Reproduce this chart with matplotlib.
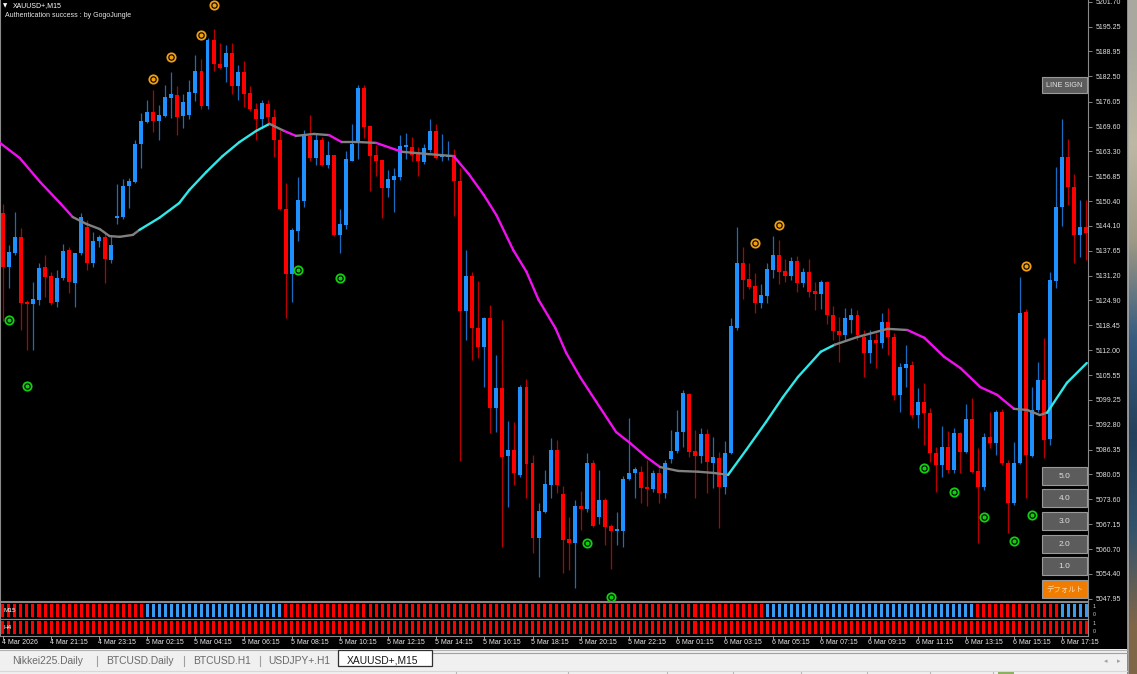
import matplotlib
matplotlib.use("Agg")
import matplotlib.pyplot as plt
import matplotlib.transforms as mtransforms
from matplotlib.collections import LineCollection
from matplotlib.patches import Rectangle
import numpy as np


FIG_W, FIG_H = 1137, 674
DPI = 100
CHART_RIGHT = 1088
CHART_BOTTOM = 601
X_MIN, X_MAX = -0.48, 180.3
Y_MIN, Y_MAX = 5047.4, 5202.2

# XAUUSD+ M15 candles
OPEN = [
    5147.4, 5133.4, 5137.1, 5141.2, 5124.4, 5123.9, 5125.0, 5133.4, 5131.1, 5124.4,
    5130.6, 5137.8, 5129.3, 5137.1, 5143.8, 5134.5, 5140.1, 5141.2, 5135.3, 5146.1,
    5146.3, 5154.3, 5155.3, 5165.1, 5170.8, 5173.4, 5171.0, 5172.3, 5177.0, 5177.7,
    5172.3, 5172.6, 5178.3, 5183.9, 5174.9, 5191.9, 5185.7, 5185.0, 5188.6, 5180.1,
    5183.7, 5178.3, 5174.1, 5171.6, 5175.4, 5172.1, 5166.2, 5148.4, 5131.6, 5142.7,
    5150.4, 5167.2, 5161.5, 5166.2, 5159.7, 5162.3, 5141.7, 5144.3, 5160.7, 5165.6,
    5179.5, 5169.8, 5162.3, 5161.0, 5153.8, 5155.9, 5156.6, 5164.3, 5164.3, 5163.1,
    5160.5, 5163.6, 5168.5, 5161.8, 5161.8, 5162.3, 5155.6, 5122.1, 5131.1, 5117.7,
    5112.8, 5120.3, 5097.1, 5102.3, 5084.8, 5086.3, 5079.9, 5102.5, 5083.0, 5063.7,
    5070.4, 5077.3, 5086.3, 5075.0, 5063.4, 5062.4, 5071.9, 5071.1, 5083.0, 5069.1,
    5073.5, 5066.8, 5065.5, 5065.5, 5078.9, 5080.4, 5080.7, 5076.5, 5076.3, 5080.4,
    5075.3, 5084.0, 5086.1, 5091.0, 5100.7, 5086.1, 5084.8, 5090.4, 5083.0, 5084.3,
    5076.8, 5085.6, 5117.7, 5134.5, 5130.4, 5128.6, 5124.2, 5126.0, 5132.7, 5136.5,
    5132.4, 5131.1, 5135.0, 5129.3, 5132.2, 5127.3, 5126.5, 5129.6, 5121.1, 5117.0,
    5115.9, 5119.8, 5121.1, 5115.4, 5111.3, 5114.7, 5113.9, 5119.3, 5115.4, 5100.5,
    5107.4, 5108.2, 5095.3, 5098.7, 5095.9, 5085.6, 5082.5, 5087.1, 5081.2, 5090.7,
    5085.8, 5094.3, 5080.9, 5076.8, 5089.7, 5088.1, 5096.1, 5083.0, 5072.7, 5083.0,
    5121.9, 5084.8, 5096.6, 5104.4, 5089.2, 5129.8, 5148.9, 5161.8, 5154.1, 5141.7,
    5143.8,
]
HIGH = [
    5149.7, 5139.1, 5147.6, 5143.5, 5125.0, 5129.6, 5134.5, 5136.5, 5132.2, 5132.7,
    5139.4, 5138.6, 5137.1, 5147.4, 5145.6, 5142.5, 5141.7, 5142.2, 5141.4, 5154.8,
    5156.1, 5156.4, 5166.2, 5173.1, 5176.5, 5179.0, 5175.2, 5180.3, 5183.7, 5180.1,
    5178.0, 5181.6, 5188.0, 5187.0, 5192.4, 5194.7, 5191.1, 5190.6, 5191.1, 5185.5,
    5186.5, 5180.1, 5175.7, 5176.5, 5176.5, 5174.1, 5168.7, 5155.1, 5143.5, 5156.6,
    5168.7, 5172.6, 5167.7, 5166.9, 5165.9, 5162.3, 5148.4, 5163.3, 5170.3, 5180.3,
    5180.3, 5169.8, 5164.9, 5161.0, 5158.4, 5158.9, 5167.4, 5168.0, 5166.9, 5164.3,
    5165.1, 5171.6, 5170.3, 5167.7, 5165.9, 5163.8, 5158.9, 5137.8, 5132.2, 5129.8,
    5120.6, 5123.7, 5110.8, 5119.8, 5093.8, 5093.5, 5103.1, 5104.6, 5085.0, 5072.7,
    5081.2, 5089.4, 5088.9, 5077.1, 5069.1, 5073.5, 5075.8, 5085.6, 5083.8, 5081.2,
    5074.0, 5067.3, 5070.4, 5079.6, 5094.6, 5082.0, 5082.2, 5083.8, 5081.2, 5081.7,
    5083.8, 5091.5, 5096.6, 5101.8, 5101.0, 5091.5, 5092.0, 5091.7, 5089.7, 5085.8,
    5088.6, 5120.3, 5143.8, 5138.6, 5134.5, 5131.9, 5129.1, 5134.5, 5141.4, 5140.4,
    5135.5, 5136.0, 5136.3, 5133.2, 5135.5, 5129.6, 5130.1, 5129.8, 5123.4, 5120.6,
    5122.9, 5122.9, 5122.4, 5117.2, 5117.2, 5116.5, 5121.6, 5122.9, 5116.5, 5108.7,
    5113.4, 5109.2, 5102.3, 5103.6, 5097.1, 5087.1, 5092.5, 5091.2, 5092.0, 5091.0,
    5098.2, 5099.7, 5086.8, 5090.7, 5096.1, 5096.6, 5096.9, 5083.8, 5088.4, 5130.9,
    5122.6, 5102.5, 5109.0, 5115.2, 5132.2, 5159.2, 5171.6, 5166.4, 5157.4, 5150.7,
    5150.7,
]
LOW = [
    5119.5, 5128.0, 5136.5, 5117.2, 5112.1, 5112.1, 5123.7, 5125.7, 5123.7, 5123.1,
    5130.1, 5126.8, 5123.1, 5136.5, 5132.7, 5133.4, 5138.6, 5129.3, 5134.5, 5144.5,
    5145.8, 5148.6, 5155.1, 5158.9, 5170.5, 5168.2, 5166.2, 5172.1, 5171.8, 5167.4,
    5169.2, 5171.6, 5176.2, 5174.1, 5174.1, 5183.9, 5184.4, 5181.1, 5178.0, 5176.5,
    5174.6, 5173.6, 5166.2, 5169.2, 5169.8, 5161.8, 5148.1, 5120.3, 5124.4, 5140.1,
    5148.9, 5160.7, 5159.7, 5159.5, 5158.9, 5141.4, 5137.1, 5143.2, 5160.7, 5161.3,
    5166.7, 5153.0, 5156.9, 5146.1, 5151.5, 5147.6, 5155.9, 5161.3, 5160.7, 5156.9,
    5160.0, 5163.1, 5161.3, 5160.7, 5161.0, 5146.6, 5083.5, 5114.7, 5109.5, 5110.0,
    5102.5, 5090.7, 5091.0, 5061.4, 5071.6, 5077.3, 5079.4, 5074.0, 5059.8, 5053.6,
    5070.1, 5074.0, 5075.3, 5054.7, 5055.4, 5050.8, 5065.7, 5070.4, 5066.5, 5067.3,
    5061.9, 5055.7, 5061.9, 5061.4, 5078.6, 5074.0, 5072.7, 5071.9, 5075.5, 5072.7,
    5074.0, 5083.0, 5085.6, 5087.1, 5084.5, 5074.0, 5083.0, 5075.3, 5076.5, 5066.2,
    5075.0, 5085.3, 5117.2, 5125.2, 5127.8, 5121.6, 5122.9, 5124.2, 5130.6, 5129.1,
    5129.6, 5130.1, 5127.0, 5128.3, 5125.7, 5122.4, 5122.6, 5118.8, 5114.7, 5109.0,
    5114.7, 5116.5, 5114.7, 5105.1, 5108.7, 5107.4, 5112.6, 5110.8, 5099.2, 5096.1,
    5102.5, 5094.6, 5092.0, 5087.6, 5083.2, 5075.5, 5079.4, 5080.4, 5080.4, 5080.4,
    5085.6, 5080.4, 5062.4, 5076.0, 5086.8, 5085.0, 5082.5, 5065.0, 5072.2, 5082.7,
    5074.0, 5084.5, 5096.1, 5084.3, 5087.6, 5128.0, 5144.0, 5149.4, 5134.5, 5136.0,
    5135.3,
]
CLOSE = [
    5133.4, 5137.3, 5141.2, 5124.2, 5123.9, 5125.2, 5133.2, 5130.9, 5124.2, 5130.6,
    5137.6, 5129.6, 5137.1, 5146.3, 5134.5, 5140.1, 5141.2, 5135.5, 5139.1, 5146.6,
    5154.3, 5155.6, 5165.1, 5171.0, 5173.4, 5171.0, 5172.6, 5177.2, 5178.0, 5172.1,
    5175.9, 5178.5, 5183.9, 5174.9, 5191.9, 5185.7, 5184.7, 5188.6, 5180.1, 5183.7,
    5178.0, 5174.1, 5171.6, 5175.7, 5172.1, 5166.2, 5148.4, 5131.6, 5143.0, 5150.7,
    5167.2, 5161.5, 5166.2, 5159.7, 5162.3, 5141.7, 5144.5, 5161.3, 5165.1, 5179.5,
    5169.5, 5162.0, 5160.7, 5153.8, 5156.1, 5156.9, 5164.6, 5164.9, 5162.3, 5160.7,
    5164.1, 5168.5, 5161.5, 5162.3, 5162.3, 5155.6, 5122.1, 5131.1, 5117.7, 5112.8,
    5120.3, 5097.1, 5102.3, 5084.5, 5086.3, 5080.4, 5102.5, 5082.7, 5063.7, 5070.6,
    5077.6, 5086.3, 5077.3, 5063.2, 5062.4, 5071.9, 5071.1, 5083.0, 5066.8, 5073.5,
    5066.5, 5065.5, 5065.7, 5078.9, 5080.4, 5081.4, 5076.5, 5076.3, 5080.4, 5075.3,
    5083.0, 5086.1, 5091.0, 5101.0, 5085.8, 5084.8, 5090.4, 5083.2, 5084.5, 5076.8,
    5085.6, 5118.3, 5134.5, 5130.1, 5128.3, 5124.2, 5126.2, 5132.9, 5136.5, 5132.2,
    5131.1, 5135.0, 5129.3, 5132.2, 5127.0, 5126.5, 5129.6, 5121.1, 5117.0, 5115.9,
    5120.3, 5121.1, 5115.9, 5111.3, 5114.7, 5113.9, 5119.3, 5115.4, 5100.5, 5107.7,
    5108.5, 5095.3, 5098.7, 5095.9, 5085.6, 5082.5, 5087.1, 5081.2, 5090.7, 5085.8,
    5094.3, 5080.7, 5076.8, 5089.7, 5088.1, 5096.1, 5083.0, 5072.7, 5083.0, 5121.6,
    5085.0, 5096.6, 5104.4, 5088.9, 5130.1, 5148.9, 5161.8, 5154.1, 5141.7, 5143.8,
    5142.2,
]

# moving average line: candle position, value, and colour state per segment
# d = falling (magenta), u = rising (cyan), n = neutral (grey)
MA_X = [
    -0.5, 2.8, 6.2, 9.5, 11.6, 13.9, 16.1, 17.7, 19.4, 21.6,
    22.7, 26.0, 29.3, 31.0, 33.8, 36.5, 39.3, 42.1, 44.3, 46.7,
    48.7, 51.7, 54.2, 56.3, 59.2, 62.0, 66.3, 70.8, 74.9, 77.4,
    79.9, 82.0, 84.8, 87.0, 89.0, 91.8, 93.6, 95.9, 98.6, 101.9,
    104.2, 106.9, 109.2, 112.2, 115.5, 118.0, 120.5, 123.5, 126.8, 129.6,
    132.1, 135.9, 138.2, 142.0, 147.0, 150.3, 153.1, 156.4, 159.1, 162.4,
    165.2, 168.0, 170.2, 172.3, 173.5, 176.8, 180.1,
]
MA_Y = [
    5165.4, 5161.5, 5155.3, 5149.9, 5146.3, 5144.5, 5143.2, 5141.4, 5141.2, 5141.7,
    5143.0, 5146.1, 5149.9, 5153.3, 5157.9, 5162.0, 5165.6, 5168.5, 5170.3, 5168.5,
    5167.2, 5167.7, 5167.4, 5165.6, 5165.6, 5165.4, 5163.1, 5162.5, 5162.0, 5157.4,
    5152.0, 5146.8, 5137.8, 5132.2, 5125.0, 5117.7, 5111.3, 5105.1, 5098.7, 5090.9,
    5088.1, 5084.5, 5081.9, 5080.9, 5080.7, 5080.4, 5079.9, 5086.3, 5093.5, 5099.9,
    5105.1, 5111.6, 5113.4, 5115.4, 5117.5, 5117.2, 5115.2, 5110.3, 5107.4, 5102.5,
    5100.5, 5096.9, 5096.6, 5095.3, 5095.9, 5103.6, 5108.7,
]
MA_STATE = (
    "dddd" "nnnnnn" "uuuuuuuu" "n" "d" "nn" "d" "nn" "d" "nn"
    "dddddddddddddd" "nnnn" "uuuuuu" "nnn" "dddddd" "nnn" "uuu"
)

SELL_SIGNAL_X = [25, 28, 33, 35, 125, 129, 170]
SELL_SIGNAL_Y = [5181.9, 5187.5, 5193.2, 5200.9, 5139.6, 5144.3, 5133.7]
BUY_SIGNAL_X = [1, 4, 49, 56, 97, 101, 153, 158, 163, 168, 171]
BUY_SIGNAL_Y = [5119.8, 5102.8, 5132.7, 5130.6, 5062.4, 5048.5,
                5081.7, 5075.5, 5069.1, 5062.9, 5069.6]

# trend strips: (1 = up / blue, 0 = down / red, number of candles)
M15_RUNS = [(0, 24), (1, 23), (0, 80), (1, 35), (0, 14), (1, 5)]
H4_RUNS = [(0, 181)]

PRICE_TICKS = [
    5201.70, 5195.25, 5188.95, 5182.50, 5176.05, 5169.60, 5163.30, 5156.85,
    5150.40, 5144.10, 5137.65, 5131.20, 5124.90, 5118.45, 5112.00, 5105.55,
    5099.25, 5092.80, 5086.35, 5080.05, 5073.60, 5067.15, 5060.70, 5054.40,
    5047.95,
]
TIME_LABELS = [
    "4 Mar 2026", "4 Mar 21:15", "4 Mar 23:15", "5 Mar 02:15", "5 Mar 04:15",
    "5 Mar 06:15", "5 Mar 08:15", "5 Mar 10:15", "5 Mar 12:15", "5 Mar 14:15",
    "5 Mar 16:15", "5 Mar 18:15", "5 Mar 20:15", "5 Mar 22:15", "6 Mar 01:15",
    "6 Mar 03:15", "6 Mar 05:15", "6 Mar 07:15", "6 Mar 09:15", "6 Mar 11:15",
    "6 Mar 13:15", "6 Mar 15:15", "6 Mar 17:15",
]
TIME_LABEL_STEP = 8

TABS = ["Nikkei225.Daily", "BTCUSD.Daily", "BTCUSD.H1", "USDJPY+.H1"]
ACTIVE_TAB = "XAUUSD+,M15"
BUTTON_LABELS = ["5.0", "4.0", "3.0", "2.0", "1.0"]

UP_COLOR = "#1e90ff"
DOWN_COLOR = "#ff0000"
UP_WICK = "#1a6cc0"
DOWN_WICK = "#b80000"
MA_COLORS = {"d": "#f010f0", "u": "#30e8e8", "n": "#808080"}
UI_FONT = ["Liberation Sans", "DejaVu Sans"]


def px_axes(fig, left, top, right, bottom):
    return fig.add_axes([
        left / FIG_W,
        1 - bottom / FIG_H,
        (right - left) / FIG_W,
        (bottom - top) / FIG_H,
    ])


def draw_candles(ax):
    o, h, l, c = (np.array(v) for v in (OPEN, HIGH, LOW, CLOSE))
    x = np.arange(len(o))
    up = c >= o
    for mask, color, wick in ((up, UP_COLOR, UP_WICK),
                              (~up, DOWN_COLOR, DOWN_WICK)):
        ax.vlines(x[mask], l[mask], h[mask], color=wick, lw=0.9, zorder=2)
        bottom = np.minimum(o, c)[mask]
        height = np.maximum(np.abs(c - o)[mask], 0.35)
        ax.bar(x[mask], height, bottom=bottom, width=0.66, color=color,
               linewidth=0, zorder=3)


def draw_ma(ax):
    pts = np.column_stack([MA_X, MA_Y])
    segs = [pts[k:k + 2] for k in range(len(pts) - 1)]
    colors = [MA_COLORS[s] for s in MA_STATE[:len(segs)]]
    lc = LineCollection(segs, colors=colors, linewidths=1.7,
                        capstyle="round", zorder=4)
    ax.add_collection(lc)


def draw_signals(ax):
    for xs, ys, color in ((SELL_SIGNAL_X, SELL_SIGNAL_Y, "#f0a010"),
                          (BUY_SIGNAL_X, BUY_SIGNAL_Y, "#10d010")):
        ax.plot(xs, ys, "o", ms=6, mfc="none", mec=color, mew=1.3,
                ls="none", zorder=5, clip_on=False)
        ax.plot(xs, ys, "o", ms=2, mfc=color, mec=color, ls="none",
                zorder=5, clip_on=False)


def draw_strip(fig, top, bottom, runs, label):
    sax = px_axes(fig, 0, top, CHART_RIGHT, bottom)
    sax.set_facecolor("black")
    states = []
    for state, count in runs:
        states += [state] * count
    states = np.array(states)
    x = np.arange(len(states))
    colors = np.where(states == 1, "#3a9cf0", DOWN_COLOR)
    sax.bar(x, 0.8, bottom=0.1, width=0.5, color=colors, linewidth=0)
    sax.set_xlim(X_MIN, X_MAX)
    sax.set_ylim(0, 1)
    sax.set_xticks([])
    sax.set_yticks([])
    for side, spine in sax.spines.items():
        spine.set_color("#8a8a8a")
        spine.set_linewidth(0.8)
    sax.text(0.003, 0.5, label, transform=sax.transAxes, color="white",
             fontsize=4.6, va="center", ha="left", family=UI_FONT)
    sax.text(1.004, 0.72, "1", transform=sax.transAxes, color="#d0d0d0",
             fontsize=3.8, va="center", ha="left", family=UI_FONT)
    sax.text(1.004, 0.28, "0", transform=sax.transAxes, color="#d0d0d0",
             fontsize=3.8, va="center", ha="left", family=UI_FONT)
    return sax


def draw_button(ui, x0, y0, x1, y1, text, face, text_color, family, size):
    ui.add_patch(Rectangle((x0, y0), x1 - x0, y1 - y0, facecolor=face,
                           edgecolor="#9a9a9a", lw=0.8, zorder=6))
    ui.text((x0 + x1) / 2, (y0 + y1) / 2 + 0.5, text, color=text_color,
            fontsize=size, ha="center", va="center", family=family, zorder=7)


def draw_chrome(fig, ax):
    ui = fig.add_axes([0, 0, 1, 1])
    ui.patch.set_visible(False)
    ui.set_axis_off()

    # desktop wallpaper strip at the right edge
    wall = np.array([
        [[0.66, 0.66, 0.62]], [[0.74, 0.72, 0.64]], [[0.62, 0.60, 0.52]],
        [[0.22, 0.36, 0.50]], [[0.14, 0.25, 0.36]], [[0.20, 0.32, 0.42]],
        [[0.50, 0.40, 0.28]],
    ])
    ui.imshow(wall, extent=[1128, FIG_W, FIG_H, 0], aspect="auto",
              interpolation="bilinear", zorder=1)
    ui.plot([1127.5, 1127.5], [0, FIG_H], color="#a8a8a8", lw=1.2, zorder=2)

    # tab bar and status bar
    ui.add_patch(Rectangle((0, 649), 1127, 25, facecolor="#f0f0f0",
                           edgecolor="none", zorder=2))
    ui.plot([0, 1127], [649.5, 649.5], color="#b0b0b0", lw=0.8, zorder=3)
    ui.plot([432, 1127], [652.5, 652.5], color="#a0a0a0", lw=0.8, zorder=3)
    ui.plot([0, 1127], [670.5, 670.5], color="#d8d8d8", lw=0.8, zorder=3)
    for sx in (456, 568, 667, 733, 801, 867, 930, 993):
        ui.plot([sx, sx], [672, FIG_H], color="#b8b8b8", lw=0.8, zorder=3)
    ui.add_patch(Rectangle((998, 672), 16, 3, facecolor="#8ab060",
                           edgecolor="none", zorder=3))

    tab_x = [12, 106, 193, 268]
    for tx, name in zip(tab_x, TABS):
        ui.text(tx, 661, name, color="#6a6a6a", fontsize=7.4, va="center",
                ha="left", family=UI_FONT, zorder=4)
    for sx in (97, 184, 260):
        ui.plot([sx, sx], [656, 666], color="#a0a0a0", lw=0.8, zorder=3)
    ui.add_patch(Rectangle((338, 650), 94, 16, facecolor="white",
                           edgecolor="#303030", lw=0.9, zorder=3))
    ui.text(347, 660.5, ACTIVE_TAB, color="#1a1a1a", fontsize=7.4,
            va="center", ha="left", family=UI_FONT, zorder=4)
    ui.text(1106, 661, "◂", color="#a0a0a0", fontsize=5, va="center",
            ha="center", family=["DejaVu Sans"], zorder=4)
    ui.text(1119, 661, "▸", color="#a0a0a0", fontsize=5, va="center",
            ha="center", family=["DejaVu Sans"], zorder=4)

    # chart header texts
    ui.text(3, 5.5, "▼", color="white", fontsize=4, va="center", ha="left",
            family=["DejaVu Sans"], zorder=7)
    ui.text(13, 5.5, "XAUUSD+,M15", color="white", fontsize=5, va="center",
            ha="left", family=UI_FONT, zorder=7)
    ui.text(5, 15.5, "Authentication success : by GogoJungle", color="#e8e8e8",
            fontsize=5, va="center", ha="left", family=UI_FONT, zorder=7)

    # time axis labels under the strips
    trans = mtransforms.blended_transform_factory(ax.transData, ui.transData)
    for k, label in enumerate(TIME_LABELS):
        xi = k * TIME_LABEL_STEP
        ui.text(xi - 0.2, 642, label, transform=trans, color="#e8e8e8",
                fontsize=5, va="center", ha="left", family=UI_FONT, zorder=7)
        ui.plot([xi, xi], [636, 638.5], transform=trans, color="#9a9a9a",
                lw=0.7, zorder=7)

    # panel buttons
    draw_button(ui, 1042, 77, 1087, 93, "LINE SIGN", "#5c5c5c", "#e4e4e4",
                UI_FONT, 5.3)
    tops = [467, 489, 512, 535, 557]
    for top, label in zip(tops, BUTTON_LABELS):
        draw_button(ui, 1042, top, 1087, top + 18, label, "#5c5c5c",
                    "#dedede", UI_FONT, 6)
    draw_button(ui, 1042, 580, 1087, 598, "デフォルト", "#f07c00", "#ffdcb0",
                ["Noto Sans CJK JP", "DejaVu Sans"], 5.3)

    ui.set_xlim(0, FIG_W)
    ui.set_ylim(FIG_H, 0)


def main():
    fig = plt.figure(figsize=(FIG_W / DPI, FIG_H / DPI), dpi=DPI,
                     facecolor="black")

    ax = px_axes(fig, 0, 0, CHART_RIGHT, CHART_BOTTOM)
    ax.set_facecolor("black")
    draw_candles(ax)
    draw_ma(ax)
    draw_signals(ax)
    ax.set_xlim(X_MIN, X_MAX)
    ax.set_ylim(Y_MIN, Y_MAX)

    ax.yaxis.tick_right()
    ax.set_yticks(PRICE_TICKS)
    ax.set_yticklabels([f"{p:.2f}" for p in PRICE_TICKS])
    ax.tick_params(axis="y", colors="#9a9a9a", labelcolor="#e0e0e0",
                   labelsize=5, length=3, width=0.6, pad=2.5)
    for lab in ax.get_yticklabels():
        lab.set_family(UI_FONT)
    ax.set_xticks([])
    ax.spines["top"].set_visible(False)
    for side in ("left", "right", "bottom"):
        ax.spines[side].set_color("#8a8a8a")
        ax.spines[side].set_linewidth(0.8)

    draw_strip(fig, 602, 619, M15_RUNS, "M15")
    draw_strip(fig, 619, 636, H4_RUNS, "H4")

    draw_chrome(fig, ax)

    fig.savefig("out.png", dpi=DPI, facecolor="black")
    plt.close(fig)


if __name__ == "__main__":
    main()
